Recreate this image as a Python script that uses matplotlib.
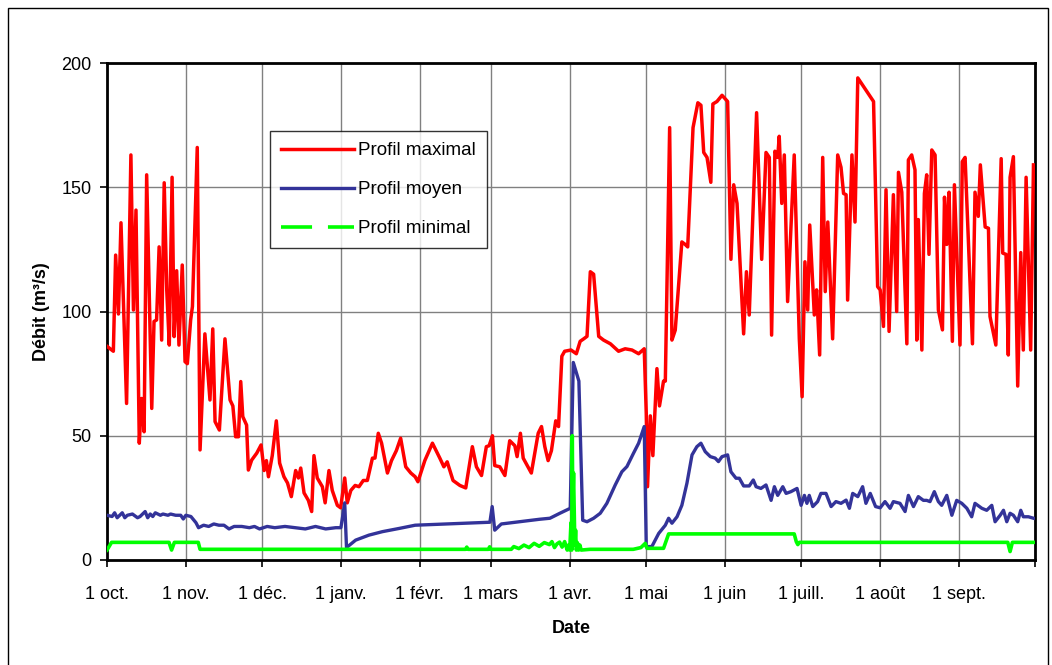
import matplotlib
matplotlib.use("Agg")
import matplotlib.pyplot as plt
from matplotlib.lines import Line2D
from matplotlib.patches import Rectangle
from matplotlib.font_manager import fontManager
from datetime import date

# ---- data: day offset from 1 October, discharge in m3/s ----
max_days = [0, 2.5, 3.4, 4.5, 5.5, 7.7, 9.4, 10.4, 11.4, 12.7, 13.6, 14.6, 15.6, 17.6, 18.5,
            19.5, 20.5, 21.5, 22.5, 23.5, 24.5, 25.6, 26.4, 27.4, 28.3, 29.6, 30.7, 31.6, 32.9,
            33.6, 35.5, 36.6, 38.5, 40.5, 41.6, 42.5, 44.2, 46.4, 48.4, 49.5, 50.6, 51.7, 52.6,
            53.4, 54.9, 55.6, 56.9, 58.9, 60.6, 61.8, 62.7, 63.5, 65, 66.6, 67.9, 69.6, 71,
            72.5, 74.2, 75.3, 76.2, 77.5, 79.2, 80.5, 81.4, 82.7, 84.7, 85.8, 87.3, 88.6, 90.6,
            91.9, 93.5, 94.5, 95.9, 97.6, 99.1, 100.8, 102.4, 104.4, 105.4, 106.7, 108, 110.3,
            111.9, 113.8, 115.5, 117.5, 119.5, 121.2, 122.3, 125, 128, 130.9, 132.5, 133.8,
            136.1, 138.8, 141.1, 143.7, 145.3, 147.3, 149.2, 150.3, 151.6, 152.5, 154.5, 156.5,
            158.4, 160.4, 161.3, 162.6, 163.7, 166.9, 169.6, 170.9, 172.2, 173.5, 174.8, 176.5,
            177.6, 178.9, 180, 182.5, 184.6, 186.1, 187.5, 188.8, 190.1, 191.4, 193.4, 195.3,
            198, 201.2, 203.8, 206.5, 209.1, 211.3, 212.1, 212.6, 213.7, 214.7, 216.3, 217.3,
            218.9, 219.6, 221.3, 222.2, 223.5, 226.1, 227.4, 228.4, 230.5, 232.4, 233.6, 234.7,
            236, 237.5, 238.3, 239.9, 241.9, 244.1, 245.4, 246.5, 247.8, 250.4, 251.5, 252.6,
            255.5, 257.5, 259.2, 260.5, 261.4, 262.7, 263.8, 264.4, 265.4, 266.4, 267.7, 270.3,
            272.3, 273.4, 274.5, 275.6, 276.4, 278.2, 279.1, 280.3, 281.5, 282.5, 283.5, 285.4,
            287.4, 288.7, 289.7, 290.7, 291.3, 293, 294.2, 295.3, 301.5, 303.1, 304.1, 305.4,
            306.4, 307.6, 309.3, 310.6, 311.3, 312.6, 314.6, 315.2, 316.5, 317.8, 318.5, 319.1,
            320.5, 321.5, 322.4, 323.3, 324.4, 325.7, 327, 328.6, 329.4, 330.3, 331.2, 332.5,
            333.3, 335.5, 336.4, 337.5, 340.4, 341.4, 342.7, 343.5, 345.4, 346.7, 347.3, 349.6,
            351.7, 352.3, 353.6, 354.5, 355.2, 356.5, 358.2, 359.4, 360.4, 361.5, 363.3, 364.4]
max_vals = [86, 84, 122.7, 99, 135.7, 63, 163, 100.6, 140.8, 47, 65, 51.6, 155, 61, 96,
            96.6, 126, 88.5, 151.8, 108.6, 86.5, 154, 89.9, 116.4, 86.5, 118.7, 79.8, 79, 96.6,
            102, 166, 44.3, 91, 64.4, 93, 55.7, 52.3, 89, 64.4, 62, 49.6, 49.6, 71.8,
            57.7, 54.3, 36.2, 40.2, 43, 46.3, 36, 40, 33.5, 42, 56, 39, 33.5, 31,
            25.5, 36, 33, 37, 27, 24, 19.5, 42, 33, 29.5, 23, 36, 28, 22,
            21, 33, 23, 28, 30, 29.5, 32, 32, 41, 41, 51, 47, 35,
            40, 44, 49, 37.5, 35, 33.5, 31.5, 40, 47, 41, 37.5, 39.5,
            32, 30, 29, 45.6, 37.5, 34, 45.6, 46, 50, 38, 37.5, 34,
            48, 46, 41.6, 51, 41, 35, 51, 53.7, 45.6, 40, 44, 56,
            53.7, 82, 84, 84.5, 83, 88, 89, 90, 116, 115, 90, 88.5,
            87, 84, 85, 84.5, 83, 85, 59, 29.5, 58, 42, 77, 62,
            72, 72, 174, 88.5, 92.5, 128, 127, 126, 174, 184, 183, 164,
            162, 152, 183.5, 184.5, 187, 184.5, 121, 151, 143.5, 91, 116, 98.6,
            180, 121, 164, 162, 90.5, 164.5, 162, 170.5, 143.5, 163, 104, 163,
            89, 65.7, 120, 100.6, 134.8, 98.6, 108.7, 82.5, 162, 108, 136, 89,
            163, 158, 147.5, 147, 104.6, 163, 136, 194, 184.5, 110, 108.7, 94,
            149, 92, 147, 100, 156, 148, 87, 161, 163, 157, 88.5, 137,
            84.5, 147.5, 155, 123, 165, 163, 100.6, 92.6, 146, 127, 148, 88,
            151, 86.5, 160.3, 162, 87, 148, 138.3, 159, 134, 133.5, 98, 86.5,
            161.5, 123.5, 123, 82.5, 154, 162.3, 70, 123.7, 84.5, 154, 84.5, 159]

mean_days = [0, 2, 3, 4, 6, 7, 8, 10, 12, 13, 15, 16, 17, 18, 19, 21, 22, 24, 25, 27, 29,
             30, 31, 33, 35, 36, 38, 40, 42, 44, 46, 48, 50, 53, 56, 58, 60, 63, 66, 70,
             74, 78, 82, 86, 90, 92, 93.5, 94.2, 97.8, 103, 108.3, 114.9, 121.2, 133.5,
             150.6, 151.5, 152.5, 155.1, 162.4, 170.2, 174.2, 178.1, 182.2, 183.4, 185.6,
             187.1, 188.8, 191.4, 194, 196.6, 199.9, 202.5, 204.5, 207.1, 209.1, 211.3,
             212.1, 214.3, 217, 219.6, 220.9, 222.2, 224.2, 226.1, 228.1, 230.1, 232, 233.6,
             235.3, 237.3, 239.2, 240.5, 241.9, 244.1, 245.4, 247.4, 248.7, 250.4, 252.6,
             254.2, 255.3, 257.2, 259.2, 261.2, 262.5, 263.8, 265.8, 267.1, 269, 271.4, 273,
             274.3, 275.3, 276.2, 277.6, 279.5, 280.8, 282.8, 284.8, 286.7, 288.7, 290.7,
             292, 293.3, 295.3, 297.2, 298.5, 300.2, 302.3, 304.1, 306, 308, 309.3, 311.9,
             313.9, 315.2, 317.2, 319.1, 321.1, 322.4, 323.7, 325.4, 327, 328.3, 330.3,
             332.3, 334.2, 336.2, 338.2, 340.1, 341.4, 344.1, 346, 348, 349.3, 351.3, 352.6,
             353.9, 355.2, 356.5, 358.2, 359.4, 360.4, 362.4, 364.4]
mean_vals = [18, 17.5, 19, 17, 19, 17, 18, 18.5, 17, 17.5, 19.5, 17, 18.5, 17.5, 19, 18, 18.5,
             18, 18.5, 18, 18, 16.5, 18, 17.5, 15, 13, 14, 13.5, 14.5, 14, 14, 12.5, 13.5,
             13.5, 13, 13.5, 12.5, 13.5, 13, 13.5, 13, 12.5, 13.5, 12.5, 13, 13, 23, 5,
             8, 10, 11.4, 12.7, 14, 14.5, 15.2, 21.5, 12, 14.5, 15.4, 16.4, 16.8, 18.8,
             20.8, 79.5, 72, 16, 15.4, 16.8, 18.8, 22.8, 30.2, 35.5, 37.6, 43, 47, 53.7,
             5.4, 5.4, 10.7, 14, 16.8, 14.8, 17.4, 22, 30.9, 42.3, 45.6, 47, 43.6, 41.6,
             41, 39.6, 41.6, 42.3, 35.5, 32.9, 32.9, 29.8, 29.8, 32.2, 29.5, 28.8, 30.2,
             24, 29.5, 26, 29.5, 26.8, 27.5, 28.8, 22, 26, 22.8, 26, 21.5, 23.5, 26.8,
             26.8, 21.5, 23.5, 22.8, 24.1, 20.8, 26.8, 25.5, 29.5, 22.8, 26.8, 21.5, 21,
             23.5, 20.8, 23.5, 22.8, 19.5, 26, 21.5, 25.5, 24, 24, 23.5, 27.5, 23.5, 22,
             26, 18, 24, 22.8, 20.8, 17.4, 22.8, 20.8, 20, 22, 15.4, 18, 20, 15.4, 18.8,
             18, 15.4, 20, 17.4, 17.4, 16.8]

min_days = [0, 1.8, 24.4, 25.4, 26.5, 35.9, 36.6, 141, 141.5, 142, 150, 150.5, 151,
            159, 160, 162, 164, 166, 168, 170, 172, 174, 175, 176, 177, 178, 179, 180,
            181, 181.5, 182, 182.5, 182.8, 183, 183.2, 183.5, 183.8, 184, 184.3, 184.6,
            185, 185.5, 186, 186.5, 190, 207, 210, 211.7, 212.4, 218.9, 220.9, 270.3,
            271.1, 271.7, 272.3, 354.3, 355.2, 356.1, 365]
min_vals = [4, 7.1, 7.1, 4, 7.1, 7.1, 4.3, 4.3, 5.2, 4.3, 4.3, 5.3, 4.3,
            4.3, 5.4, 4.6, 6, 5, 6.7, 5.5, 7, 6.2, 7.4, 5, 6.5, 7.2, 5.2, 7.4,
            4, 6, 4, 15, 4, 50, 22, 35, 18, 6, 12, 4,
            7, 4, 6, 4, 4.3, 4.3, 5, 6.7, 4.7, 4.7, 10.5, 10.5,
            7.4, 6.2, 7.1, 7.1, 3.4, 7.1, 7.1]

series_labels = ["Profil maximal", "Profil moyen", "Profil minimal"]
month_labels = ["1 oct.", "1 nov.", "1 déc.", "1 janv.", "1 févr.", "1 mars",
                "1 avr.", "1 mai", "1 juin", "1 juill.", "1 août", "1 sept."]
y_ticks = [0, 50, 100, 150, 200]

# ---- styling ----
installed = {f.name for f in fontManager.ttflist}
family = ["Liberation Sans Narrow", "Liberation Sans"] if "Liberation Sans Narrow" in installed \
    else ["Liberation Sans"]
plt.rcParams["font.family"] = family

RED = "#FF0000"
NAVY = "#333399"
GREEN = "#00FF00"

fig = plt.figure(figsize=(10.52, 6.65), dpi=100)
ax = fig.add_axes([107 / 1052, 1 - 560 / 665, 928 / 1052, 497 / 665])

ax.plot(max_days, max_vals, color=RED, lw=2.5, solid_joinstyle="round", zorder=3)
ax.plot(mean_days, mean_vals, color=NAVY, lw=2.4, solid_joinstyle="round", zorder=4)
ax.plot(min_days, min_vals, color=GREEN, lw=2.6, solid_joinstyle="round", zorder=5)

# month boundaries of the hydrological year (Oct -> Sep)
start = date(2006, 10, 1)
month_starts = []
for k in range(13):
    m = (10 + k - 1) % 12 + 1
    y = 2006 + (10 + k - 1) // 12
    month_starts.append((date(y, m, 1) - start).days)

ax.set_xlim(0, month_starts[-1])
ax.set_ylim(0, 200)
ax.set_xticks(month_starts)
ax.set_xticklabels(month_labels + [""])
ax.set_yticks(y_ticks)
ax.set_yticklabels([str(v) for v in y_ticks])

ax.grid(True, color="#808080", lw=1.0, zorder=0)
ax.set_axisbelow(True)
for s in ax.spines.values():
    s.set_linewidth(2.0)
    s.set_color("black")
ax.tick_params(axis="both", direction="out", length=5, width=1.2, colors="black",
               labelsize=13, pad=6)
ax.tick_params(axis="x", pad=14)

ax.set_xlabel("Date", fontsize=13, fontweight="bold", labelpad=12)
ax.set_ylabel("Débit (m³/s)", fontsize=13, fontweight="bold", labelpad=8)

handles = [Line2D([], [], color=RED, lw=2.5),
           Line2D([], [], color=NAVY, lw=2.4),
           Line2D([], [], color=GREEN, lw=2.6, dashes=(8.6, 4.4))]
leg = ax.legend(handles, series_labels, loc="upper left",
                bbox_to_anchor=((270 - 107) / 928, (560 - 131) / 497),
                borderaxespad=0, frameon=True, fancybox=False, shadow=False,
                fontsize=13.5, handlelength=3.9, handletextpad=0.2,
                labelspacing=1.16, borderpad=0.6)
leg.get_frame().set_edgecolor("black")
leg.get_frame().set_linewidth(1.0)

# outer chart frame (its lower edge runs past the bottom of the image)
fig.patches.append(Rectangle((8 / 1052, -4 / 665), 1040 / 1052, 661 / 665,
                             transform=fig.transFigure, fill=False,
                             edgecolor="black", lw=1.0))

fig.savefig("out.png", dpi=100)
